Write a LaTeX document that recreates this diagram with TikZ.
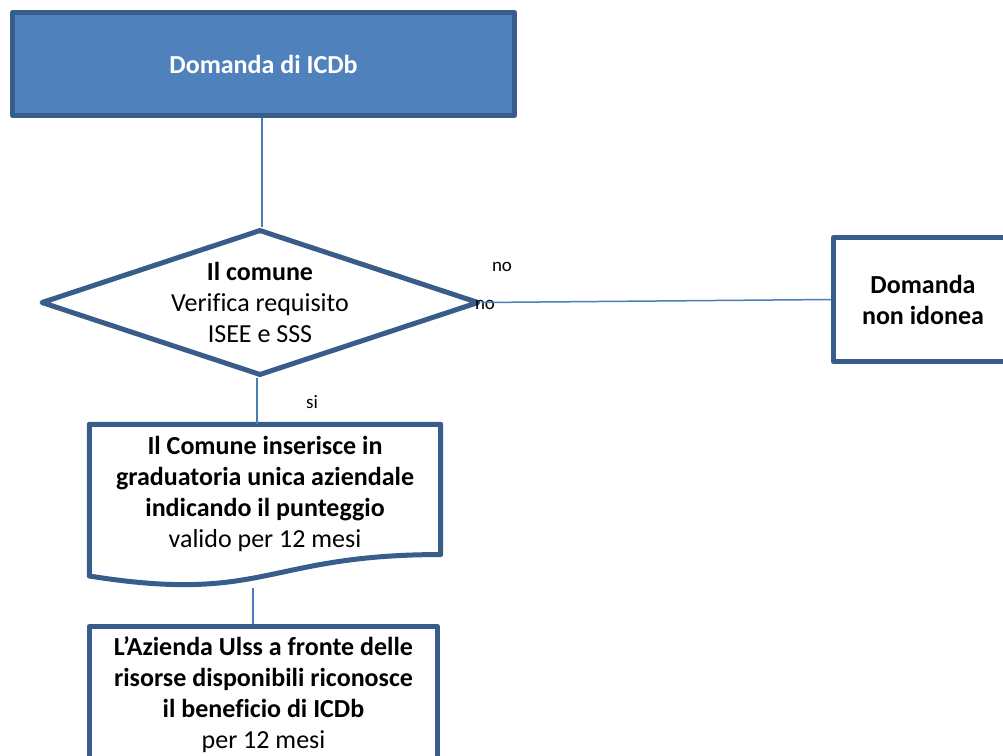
\documentclass[tikz,border=0pt]{standalone}
\usepackage{fontspec}
\setmainfont{Carlito}[Ligatures=NoCommon]
\usetikzlibrary{shapes.geometric,calc}
\definecolor{boxblue}{RGB}{79,129,189}
\definecolor{edgeblue}{RGB}{56,93,138}
\definecolor{linkblue}{RGB}{74,126,187}

\begin{document}
\begin{tikzpicture}[x=1pt,y=-1pt,
  big/.style={font=\fontsize{26}{31}\selectfont,align=center,inner sep=0pt},
  box/.style={big,rectangle,draw=edgeblue,line width=5pt,line join=round},
  small/.style={font=\fontsize{19}{23}\selectfont,inner sep=0pt},
  link/.style={draw=linkblue,line width=1.5pt}]
  \useasboundingbox (0,0) rectangle (1003,755);
  \clip (0,0) rectangle (1003,755);
  % boxes
  \node[box,fill=boxblue,text=white,minimum width=502pt,minimum height=103pt] (dom) at (263.5,64) {\textbf{Domanda di ICDb}};
  \node[diamond,draw=edgeblue,line width=5pt,line join=round,inner sep=0pt,minimum width=438pt,minimum height=146pt] (ver) at (260,302.5) {};
  \node[big] (vertxt) at (ver.center) {\textbf{Il comune}\\Verifica requisito\\ISEE e SSS};
  \node[box,minimum width=179pt,minimum height=124pt] (noid) at (923,299.5) {\textbf{Domanda}\\\textbf{non idonea}};
  \node[inner sep=0pt,minimum width=351pt,minimum height=162pt] (grad) at (265,505.5) {};
  \node[big] (gradtxt) at (265,493.5) {\textbf{Il Comune inserisce in}\\\textbf{graduatoria unica aziendale}\\\textbf{indicando il punteggio}\\valido per 12 mesi};
  \draw[draw=edgeblue,line width=5pt,line join=round] (grad.north west) -- (grad.north east)
    -- ($(grad.north east)!0.802!(grad.south east)$)
    .. controls ($(grad.north)!0.802!(grad.south)$) and ($(grad.north)!1.1075!(grad.south)$)
    .. ($(grad.north west)!0.934!(grad.south west)$) -- cycle;
  \node[box,minimum width=348pt,minimum height=136pt] (ulss) at (263.5,694.5) {\textbf{L’Azienda Ulss a fronte delle}\\\textbf{risorse disponibili riconosce}\\\textbf{il beneficio di ICDb}\\per 12 mesi};
  % labels
  \node[small] (no1) at (502,267) {no};
  \node[small] (no2) at (485,305) {no};
  \node[small] (si) at (312,402) {si};
  % connectors
  \coordinate (gradout) at (253,588);
  \draw[link] ([xshift=-1.5pt]dom.south) -- ([xshift=-1.5pt]dom.south |- ver.north);
  \draw[link] (ver.east) -- (noid.west);
  \draw[link] ([xshift=-3pt]ver.south) -- ([xshift=-3pt]ver.south |- grad.north);
  \draw[link] (gradout) -- (gradout |- ulss.north);
\end{tikzpicture}
\end{document}
